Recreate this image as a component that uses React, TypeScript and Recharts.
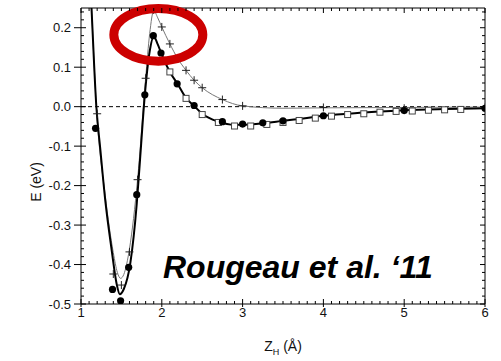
import {
  ComposedChart, Line, Scatter, XAxis, YAxis, ReferenceLine, ReferenceDot,
} from 'recharts'

const FONT = '"Liberation Sans", Arial, Helvetica, sans-serif'

/* ─── axis ticks ─── */
const X_MAJOR = [1, 2, 3, 4, 5, 6]
const Y_MAJOR = [-0.5, -0.4, -0.3, -0.2, -0.1, 0, 0.1, 0.2]
// minor ticks: every 0.1 Å and every 0.02 eV
const X_MINOR = Array.from({ length: 51 }, (_, i) => Math.round((1 + i * 0.1) * 10) / 10)
const Y_MINOR = Array.from({ length: 38 }, (_, i) => Math.round((-0.5 + i * 0.02) * 100) / 100)

/* ─── computed points: filled circles ─── */
const Z_CIRCLE = [1.18, 1.39, 1.49, 1.59, 1.69, 1.79, 1.895, 1.99, 2.19, 2.4, 2.75, 3.0, 3.25, 3.5, 4.0, 5.0, 6.0]
const E_CIRCLE = [-0.055, -0.463, -0.492, -0.407, -0.223, 0.03, 0.18, 0.136, 0.058, 0.003, -0.038, -0.044, -0.041, -0.036, -0.023, -0.01, -0.004]

/* ─── computed points: open squares ─── */
const Z_SQUARE = [2.1, 2.3, 2.5, 2.7, 2.9, 3.1, 3.3, 3.5, 3.7, 3.9, 4.1, 4.3, 4.5, 4.7, 4.9, 5.1, 5.3, 5.5, 5.7]
const E_SQUARE = [0.088, 0.021, -0.02, -0.04, -0.049, -0.049, -0.045, -0.04, -0.035, -0.029, -0.024, -0.02, -0.018, -0.014, -0.012, -0.011, -0.009, -0.008, -0.007]

/* ─── computed points: crosses ─── */
const Z_CROSS = [1.2, 1.4, 1.5, 1.6, 1.7, 1.8, 1.9, 2.0, 2.1, 2.2, 2.3, 2.4, 2.5, 2.75, 3.0, 4.0, 5.0, 6.0]
const E_CROSS = [-0.018, -0.424, -0.452, -0.368, -0.185, 0.072, 0.245, 0.202, 0.159, 0.121, 0.092, 0.067, 0.048, 0.018, 0.002, -0.002, -0.004, -0.002]

/* ─── fitted curves ─── */
const Z_FIT = [1.06, 1.13, 1.19, 1.24, 1.3, 1.38, 1.44, 1.48, 1.53, 1.61, 1.69, 1.73, 1.79, 1.85, 1.9, 1.95, 2.0, 2.1, 2.2, 2.3, 2.4, 2.5, 2.7, 2.9, 3.0, 3.25, 3.5, 3.75, 4.0, 4.5, 5.0, 5.5, 6.0]
const E_FIT = [0.55, 0.25, 0.0, -0.11, -0.237, -0.364, -0.448, -0.475, -0.462, -0.397, -0.246, -0.136, 0.03, 0.14, 0.178, 0.158, 0.132, 0.088, 0.056, 0.022, 0.002, -0.018, -0.038, -0.046, -0.046, -0.042, -0.036, -0.03, -0.023, -0.015, -0.009, -0.006, -0.004]

const Z_THIN = [1.06, 1.13, 1.19, 1.3, 1.4, 1.45, 1.49, 1.53, 1.6, 1.7, 1.8, 1.85, 1.9, 1.95, 2.0, 2.1, 2.2, 2.3, 2.4, 2.5, 2.75, 3.0, 3.5, 4.0, 5.0, 6.0]
const E_THIN = [0.55, 0.25, 0.0, -0.225, -0.37, -0.42, -0.435, -0.425, -0.36, -0.185, 0.072, 0.185, 0.243, 0.225, 0.202, 0.159, 0.121, 0.092, 0.067, 0.048, 0.018, 0.002, -0.004, -0.003, -0.002, -0.001]

const pts = (zs: number[], es: number[]) => zs.map((z, i) => ({ z, e: es[i] }))

// plot box size, used to mirror tick marks onto the top/right edges
const PLOT_W = 404
const PLOT_H = 296

/* ─── marker shapes ─── */
const Dot = ({ cx, cy }: any) => <circle cx={cx} cy={cy} r={3.6} fill="#000" />
const Square = ({ cx, cy }: any) => (
  <rect x={cx - 3} y={cy - 3} width={6} height={6} fill="#fff" stroke="#444" strokeWidth={1} />
)
const Cross = ({ cx, cy }: any) => (
  <path d={`M${cx - 4},${cy}H${cx + 4}M${cx},${cy - 4}V${cy + 4}`} stroke="#222" strokeWidth={1} />
)

/* ─── Origin-style ticks: in on all sides, majors also out ─── */
function XTick({ x, y, payload }: any) {
  const major = X_MAJOR.includes(payload.value)
  const len = major ? 5 : 3
  return (
    <g stroke="#000" strokeWidth={1}>
      <line x1={x} x2={x} y1={y} y2={y - len} />
      <line x1={x} x2={x} y1={y - PLOT_H} y2={y - PLOT_H + len} />
      {major && <line x1={x} x2={x} y1={y} y2={y + 3} />}
      {major && (
        <text x={x} y={y + 13} textAnchor="middle" stroke="none" fill="#111" fontSize={13} fontFamily={FONT}>
          {payload.value}
        </text>
      )}
    </g>
  )
}

function YTick({ x, y, payload }: any) {
  const major = Y_MAJOR.includes(payload.value)
  const len = major ? 5 : 3
  return (
    <g stroke="#000" strokeWidth={1}>
      <line x1={x} x2={x + len} y1={y} y2={y} />
      <line x1={x + PLOT_W} x2={x + PLOT_W - len} y1={y} y2={y} />
      {major && <line x1={x} x2={x - 7} y1={y} y2={y} />}
      {major && (
        <text x={x - 10} y={y} dy="0.35em" textAnchor="end" stroke="none" fill="#111" fontSize={13} fontFamily={FONT}>
          {payload.value.toFixed(1)}
        </text>
      )}
    </g>
  )
}

function XTitle({ viewBox }: any) {
  const cx = viewBox.x + viewBox.width / 2
  return (
    <text x={cx} y={viewBox.y + 47} textAnchor="middle" fontSize={14} fill="#111" fontFamily={FONT}>
      Z<tspan fontSize={9} dy={4}>H</tspan><tspan dy={-4}> (Å)</tspan>
    </text>
  )
}

function YTitle({ viewBox }: any) {
  const x = viewBox.x + 5
  const y = viewBox.y + 174
  return (
    <text x={x} y={y} transform={`rotate(-90 ${x} ${y})`} textAnchor="middle"
      dominantBaseline="central" fontSize={14} fill="#111" fontFamily={FONT}>
      E (eV)
    </text>
  )
}

export default function App() {
  return (
    <div style={{ position: 'absolute', left: 0, top: 0, width: 501, height: 361, background: '#fff' }}>
      <ComposedChart width={501} height={361} margin={{ top: 8, right: 16, bottom: 23, left: 31 }}>
        <XAxis xAxisId="xb" type="number" dataKey="z" domain={[1, 6]} ticks={X_MINOR} interval={0}
          allowDataOverflow height={34} tickSize={0} tickMargin={0} tickLine={false}
          tick={<XTick />} stroke="#000" label={<XTitle />} />
        <YAxis yAxisId="yl" type="number" dataKey="e" domain={[-0.5, 0.25]} ticks={Y_MINOR} interval={0}
          allowDataOverflow width={50} tickSize={0} tickMargin={0} tickLine={false}
          tick={<YTick />} stroke="#000" label={<YTitle />} />

        {/* top and right frame edges */}
        <ReferenceLine xAxisId="xb" yAxisId="yl" y={0.25} stroke="#000" strokeWidth={1} ifOverflow="visible" />
        <ReferenceLine xAxisId="xb" yAxisId="yl" x={6} stroke="#000" strokeWidth={1} ifOverflow="visible" />

        <ReferenceLine xAxisId="xb" yAxisId="yl" y={0} stroke="#000" strokeWidth={1} strokeDasharray="4 3" />

        <Line xAxisId="xb" yAxisId="yl" data={pts(Z_THIN, E_THIN)} dataKey="e" type="monotone"
          stroke="#777" strokeWidth={1} dot={false} isAnimationActive={false} />
        <Line xAxisId="xb" yAxisId="yl" data={pts(Z_FIT, E_FIT)} dataKey="e" type="monotone"
          stroke="#000" strokeWidth={2} dot={false} isAnimationActive={false} />

        <Scatter xAxisId="xb" yAxisId="yl" data={pts(Z_SQUARE, E_SQUARE)} dataKey="e" shape={Square} isAnimationActive={false} />
        <Scatter xAxisId="xb" yAxisId="yl" data={pts(Z_CROSS, E_CROSS)} dataKey="e" shape={Cross} isAnimationActive={false} />
        <Scatter xAxisId="xb" yAxisId="yl" data={pts(Z_CIRCLE, E_CIRCLE)} dataKey="e" shape={Dot} isAnimationActive={false} />

        {/* highlighted barrier */}
        <ReferenceDot xAxisId="xb" yAxisId="yl" x={1.957} y={0.182} ifOverflow="visible"
          shape={({ cx, cy }: any) => (
            <ellipse cx={cx} cy={cy} rx={44.5} ry={26.3} fill="none" stroke="#cc0000" strokeWidth={9} />
          )} />
        <ReferenceDot xAxisId="xb" yAxisId="yl" x={2.015} y={-0.434} ifOverflow="visible"
          shape={({ cx, cy }: any) => (
            <text x={cx} y={cy} fontSize={32} fontWeight="bold" fontStyle="italic" fill="#000" fontFamily={FONT}>
              Rougeau et al. ‘11
            </text>
          )} />
      </ComposedChart>
    </div>
  )
}
